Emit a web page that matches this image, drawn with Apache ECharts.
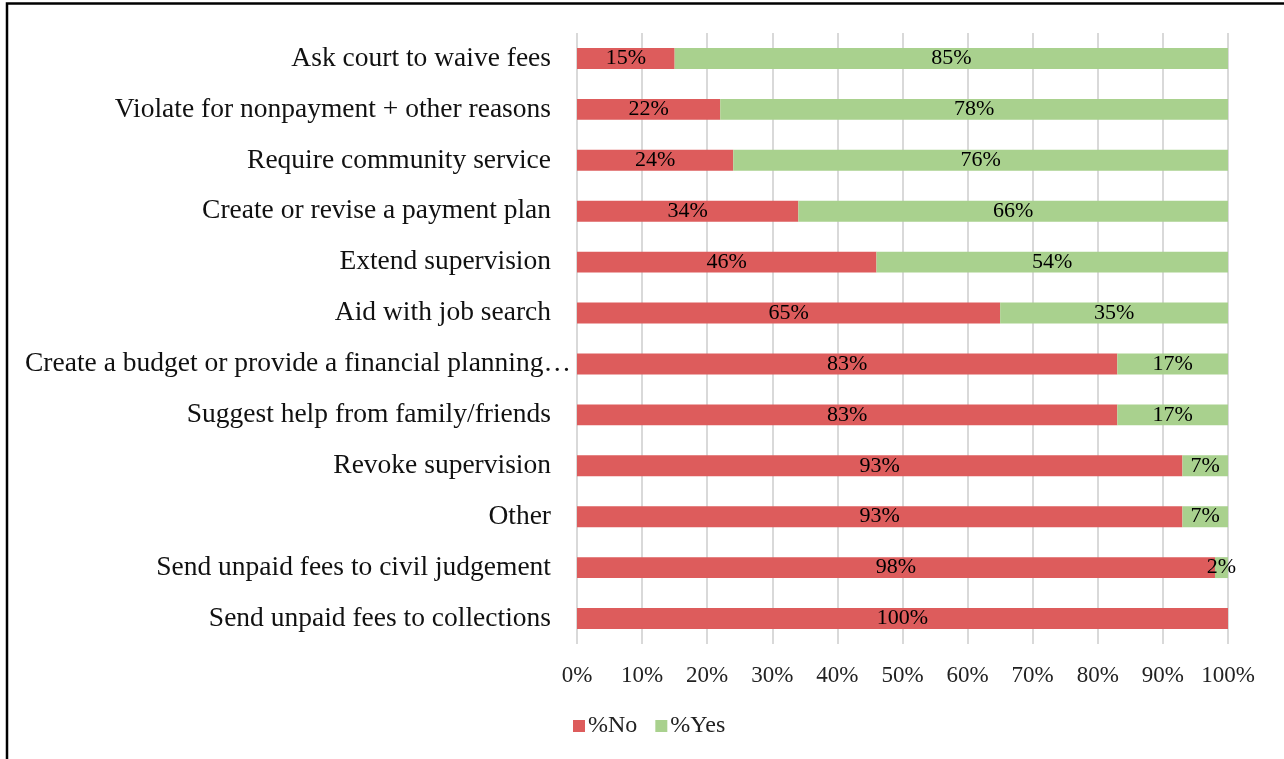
<!DOCTYPE html>
<html>
<head>
<meta charset="utf-8">
<style>
  html, body { margin: 0; padding: 0; background: #fff; }
  #chart { width: 1284px; height: 759px; }
</style>
<script src="https://cdn.jsdelivr.net/npm/echarts@6/dist/echarts.min.js"></script>
</head>
<body>
<div id="chart"></div>
<script>
// Responses by action, top to bottom
const categories = [
  'Ask court to waive fees',
  'Violate for nonpayment + other reasons',
  'Require community service',
  'Create or revise a payment plan',
  'Extend supervision',
  'Aid with job search',
  'Create a budget or provide a financial planning\u2026',
  'Suggest help from family/friends',
  'Revoke supervision',
  'Other',
  'Send unpaid fees to civil judgement',
  'Send unpaid fees to collections'
];
const pctNo  = [15, 22, 24, 34, 46, 65, 83, 83, 93, 93, 98, 100];
const pctYes = [85, 78, 76, 66, 54, 35, 17, 17, 7, 7, 2, 0];
const xTicks = [0, 10, 20, 30, 40, 50, 60, 70, 80, 90, 100];

const FONT = '"Liberation Serif", "Times New Roman", serif';
const RED = '#DD5C5C';
const GREEN = '#A9D18E';
const CAT_SIZE = 27.5;

const chart = echarts.init(document.getElementById('chart'));

const labelCfg = {
  show: true,
  position: 'inside',
  color: '#000',
  fontFamily: FONT,
  fontSize: 22,
  formatter: p => (p.value > 0 ? p.value + '%' : '')
};

chart.setOption({
  animation: false,
  backgroundColor: '#fff',
  textStyle: { fontFamily: FONT },
  graphic: [{
    type: 'rect',
    shape: { x: 7, y: 3.5, width: 1400, height: 900 },
    style: { fill: 'none', stroke: '#000', lineWidth: 2.5 },
    silent: true,
    z: 100
  }],
  grid: { left: 577, right: 56, top: 33, bottom: 115, containLabel: false },
  legend: {
    data: ['%No', '%Yes'],
    left: 568,
    top: 709,
    itemWidth: 12,
    itemHeight: 12,
    itemGap: 18,
    icon: 'rect',
    textStyle: { fontFamily: FONT, fontSize: 24, color: '#222', padding: [0, 0, 0, -2] }
  },
  xAxis: {
    type: 'value',
    min: xTicks[0],
    max: xTicks[xTicks.length - 1],
    interval: 10,
    axisLine: { show: false },
    axisTick: { show: false },
    axisLabel: {
      margin: 20,
      fontFamily: FONT,
      fontSize: 23,
      color: '#222',
      formatter: v => v + '%'
    },
    splitLine: { show: true, lineStyle: { color: '#D9D9D9', width: 2 } }
  },
  yAxis: {
    type: 'category',
    data: categories,
    inverse: true,
    axisLine: { show: false },
    axisTick: { show: false },
    axisLabel: {
      margin: 26,
      fontFamily: FONT,
      fontSize: CAT_SIZE,
      color: '#111',
      // the truncated label runs on past the usual right edge
      formatter: v => (v.endsWith('\u2026') ? '{long|' + v + '}' : v),
      rich: {
        long: {
          width: 526,
          align: 'left',
          fontFamily: FONT,
          fontSize: CAT_SIZE,
          color: '#111'
        }
      }
    }
  },
  series: [
    {
      name: '%No',
      type: 'bar',
      stack: 'total',
      data: pctNo,
      barWidth: '41%',
      itemStyle: { color: RED },
      label: labelCfg
    },
    {
      name: '%Yes',
      type: 'bar',
      stack: 'total',
      data: pctYes,
      barWidth: '41%',
      itemStyle: { color: GREEN },
      label: labelCfg
    }
  ]
});
</script>
</body>
</html>
